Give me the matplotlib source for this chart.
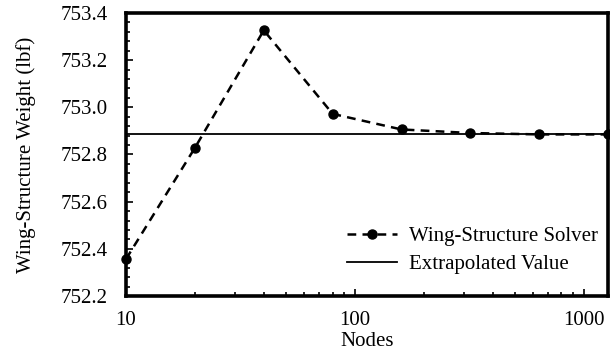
import numpy as np
import matplotlib.pyplot as plt
from matplotlib.ticker import MultipleLocator, LogLocator, NullFormatter, FormatStrFormatter

plt.rcParams['font.family'] = ['Liberation Serif', 'DejaVu Serif']

nodes = [10, 20, 40, 80, 160, 320, 640, 1280]
weight = [752.357, 752.828, 753.326, 752.972, 752.906, 752.891, 752.885, 752.885]
extrapolated = 752.887

fig = plt.figure(figsize=(6.1, 3.58), dpi=100)
ax = fig.add_axes([0.2066, 0.173, 0.7904, 0.791])

ax.plot(nodes, weight, 'k--', marker='o', markersize=6.5, linewidth=1.8,
        dashes=(3.5, 2.5), label='Wing-Structure Solver', clip_on=False, zorder=3)
ax.axhline(extrapolated, color='k', linewidth=1.3, label='Extrapolated Value')

ax.set_xscale('log')
ax.set_xlim(10, 1280)
ax.set_ylim(752.2, 753.4)

ax.yaxis.set_major_locator(MultipleLocator(0.2))
ax.yaxis.set_minor_locator(MultipleLocator(0.04))
ax.yaxis.set_major_formatter(FormatStrFormatter('%.1f'))
ax.xaxis.set_major_locator(LogLocator(base=10))
ax.xaxis.set_minor_locator(LogLocator(base=10, subs=np.arange(2, 10)))
ax.xaxis.set_minor_formatter(NullFormatter())
ax.xaxis.set_major_formatter(FormatStrFormatter('%d'))

ax.tick_params(which='both', direction='in', labelsize=15, width=1.2)
ax.tick_params(which='major', length=5)
ax.tick_params(which='minor', length=3)
ax.tick_params(axis='x', pad=11)
ax.tick_params(axis='y', pad=13)

for s in ax.spines.values():
    s.set_linewidth(2.6)

ax.set_xlabel('Nodes', fontsize=15, labelpad=1)
ax.set_ylabel('Wing-Structure Weight (lbf)', fontsize=15, labelpad=18)

ax.legend(loc='lower right', bbox_to_anchor=(0.998, 0.205), bbox_transform=fig.transFigure,
          frameon=False, fontsize=15, handlelength=2.4, borderpad=0, labelspacing=0.4,
          handletextpad=0.6)

fig.savefig('out.png', dpi=100)
